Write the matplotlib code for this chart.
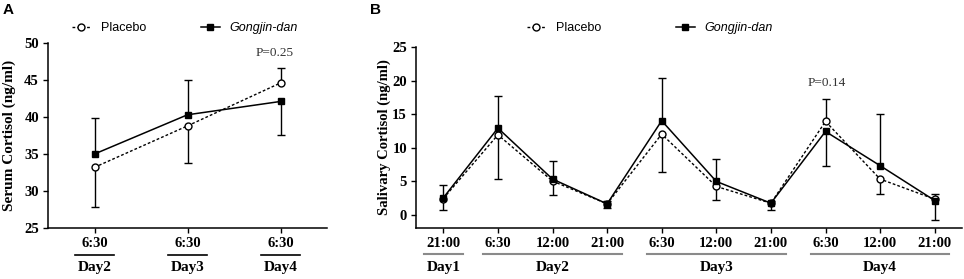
import numpy as np
import matplotlib
matplotlib.use("Agg")
import matplotlib.pyplot as plt
import matplotlib.transforms as mtransforms

# Panel A: serum cortisol at 6:30 on days 2-4
a_ticks = ["6:30", "6:30", "6:30"]
a_days = ["Day2", "Day3", "Day4"]
a_placebo = [33.2, 38.8, 44.6]
a_gongjin = [35.0, 40.3, 42.1]
# signed one-sided SD: positive drawn up, negative drawn down
a_placebo_sd = [-5.4, -5.0, 2.0]
a_gongjin_sd = [4.8, 4.7, -4.5]

# Panel B: salivary cortisol over 10 time points
b_ticks = ["21:00", "6:30", "12:00", "21:00", "6:30", "12:00", "21:00", "6:30", "12:00", "21:00"]
b_days = ["Day1", "Day2", "Day3", "Day4"]
b_day_centers = [0, 2, 5, 8]
b_placebo = [2.4, 11.9, 5.0, 1.6, 12.0, 4.2, 1.7, 13.9, 5.3, 2.3]
b_gongjin = [2.5, 12.9, 5.3, 1.6, 14.0, 4.95, 1.7, 12.4, 7.3, 2.1]
b_placebo_sd = [-1.65, -6.55, -2.1, 0.5, -5.6, -2.0, 0.4, 3.3, -2.2, 0.7]
b_gongjin_sd = [1.9, 4.8, 2.7, -0.6, 6.4, 3.3, -1.05, -5.1, 7.7, -2.85]

SERIF = "Liberation Serif"
SANS = "Liberation Sans"

fig = plt.figure(figsize=(9.64, 2.79), dpi=100)
W, H = 964, 279


def px_axes(left, right, top, bottom):
    return fig.add_axes([left / W, 1 - bottom / H, (right - left) / W, (bottom - top) / H])


def draw_err(ax, x, y, sd):
    x = np.asarray(x, dtype=float)
    y = np.asarray(y, dtype=float)
    sd = np.asarray(sd, dtype=float)
    ends = y + sd
    ax.vlines(x, y, ends, color="black", lw=1, zorder=2)
    ax.plot(x, ends, ls="none", marker="_", ms=6, mew=1, color="black", zorder=2)


def draw_series(ax, x, plac, plac_sd, gong, gong_sd):
    draw_err(ax, x, plac, plac_sd)
    draw_err(ax, x, gong, gong_sd)
    p, = ax.plot(x, plac, color="black", lw=1, ls=(0, (2, 1.5)), marker="o",
                 ms=5, mfc="white", mec="black", mew=1, zorder=3, label="Placebo")
    g, = ax.plot(x, gong, color="black", lw=1.1, ls="-", marker="s",
                 ms=5, mfc="black", mec="black", zorder=4, label="Gongjin-dan")
    return p, g


def style_axes(ax):
    for s in ["top", "right"]:
        ax.spines[s].set_visible(False)
    for s in ["left", "bottom"]:
        ax.spines[s].set_linewidth(1.1)
    ax.tick_params(direction="out", length=3.5, width=1, pad=3)
    for lab in ax.get_yticklabels() + ax.get_xticklabels():
        lab.set_fontfamily(SERIF)
        lab.set_fontweight("bold")
        lab.set_fontsize(10.5)


def add_legend(ax, handles, x_px, y_px, colsp):
    leg = ax.legend(handles, ["Placebo", "Gongjin-dan"], loc="center left",
                    bbox_to_anchor=(x_px / W, 1 - y_px / H), bbox_transform=fig.transFigure,
                    ncol=2, frameon=False, borderpad=0, borderaxespad=0,
                    handlelength=1.5, handletextpad=0.8, columnspacing=colsp,
                    prop={"family": SANS, "size": 9})
    leg.get_texts()[1].set_fontstyle("italic")


# ---------------- Panel A ----------------
axA = px_axes(48, 327, 43, 228)
xa = np.arange(len(a_placebo))
hA = draw_series(axA, xa, a_placebo, a_placebo_sd, a_gongjin, a_gongjin_sd)
axA.set_xlim(-0.5, 2.5)
axA.set_ylim(25, 50)
axA.set_yticks(np.arange(25, 51, 5))
axA.set_xticks(xa)
axA.set_xticklabels(a_ticks)
axA.set_ylabel("Serum Cortisol (ng/ml)", fontfamily=SERIF, fontweight="bold", fontsize=11)
axA.yaxis.set_label_coords(-0.115, 0.5)
style_axes(axA)
axA.text(1.94, 48.7, "P=0.25", fontfamily=SERIF, fontsize=9.5, color="#333333",
         ha="center", va="center")
transA = mtransforms.blended_transform_factory(axA.transData, fig.transFigure)
for i, d in enumerate(a_days):
    axA.plot([i - 0.21, i + 0.21], [1 - 255 / H] * 2, color="black", lw=1.2,
             transform=transA, clip_on=False)
    axA.text(i, 1 - 268 / H, d, transform=transA, ha="center", va="center",
             fontfamily=SERIF, fontweight="bold", fontsize=11)
add_legend(axA, hA, 72, 28, 4.4)
fig.text(3 / W, 1 - 10 / H, "A", fontfamily=SANS, fontweight="bold", fontsize=11,
         ha="left", va="center")

# ---------------- Panel B ----------------
axB = px_axes(416, 962, 47, 228)
xb = np.arange(len(b_placebo))
hB = draw_series(axB, xb, b_placebo, b_placebo_sd, b_gongjin, b_gongjin_sd)
axB.set_xlim(-0.5, 9.5)
axB.set_ylim(-2, 25)
axB.set_yticks(np.arange(0, 26, 5))
axB.set_xticks(xb)
axB.set_xticklabels(b_ticks)
axB.set_ylabel("Salivary Cortisol (ng/ml)", fontfamily=SERIF, fontweight="bold", fontsize=10.5)
axB.yaxis.set_label_coords(-0.046, 0.5)
style_axes(axB)
axB.text(7.02, 19.6, "P=0.14", fontfamily=SERIF, fontsize=9.5, color="#333333",
         ha="center", va="center")
transB = mtransforms.blended_transform_factory(axB.transData, fig.transFigure)
for c, d in zip(b_day_centers, b_days):
    half = 0.36 if c == 0 else 1.27
    axB.plot([c - half, c + half], [1 - 254 / H] * 2, color="#8a8a8a", lw=1.5,
             transform=transB, clip_on=False)
    axB.text(c, 1 - 268 / H, d, transform=transB, ha="center", va="center",
             fontfamily=SERIF, fontweight="bold", fontsize=11)
add_legend(axB, hB, 527, 28, 6.0)
fig.text(370 / W, 1 - 10 / H, "B", fontfamily=SANS, fontweight="bold", fontsize=11,
         ha="left", va="center")

fig.savefig("out.png", dpi=100)
